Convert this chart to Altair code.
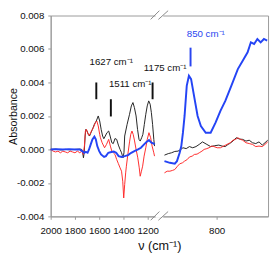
import altair as alt
import pandas as pd

# ---------------- data (wavenumber in cm-1, absorbance) ----------------
BLACK_WN = [2000, 1960, 1920, 1880, 1840, 1800, 1760, 1744, 1736, 1730, 1724, 1716, 1710, 1700,
            1690, 1680, 1668, 1656, 1640, 1624, 1608, 1596, 1584, 1572, 1562, 1550, 1536, 1522,
            1510, 1496, 1484, 1470, 1456, 1442, 1428, 1416, 1404, 1396, 1390, 1370, 1350, 1335,
            1322, 1310, 1296, 1284, 1272, 1262, 1250, 1240, 1228, 1216, 1204, 1192, 1180, 1170,
            1160, 1150, 1144,
            896, 889, 883, 877, 871, 866, 862, 856, 850, 844, 838, 832, 826, 818, 811, 804, 796,
            790, 784, 779, 776, 770, 764, 758, 752, 746, 740, 734, 728, 722, 716, 711, 706]
BLACK_ABS = [0.0, 0.00002, -0.00003, 0.0, -0.00002, 0.0, 0.00002, 0.0, -0.0002, -0.0005, -0.0002,
             0.0008, 0.0012, 0.0011, 0.0009, 0.0008, 0.001, 0.0012, 0.0015, 0.0017, 0.002, 0.0017,
             0.0012, 0.0008, 0.00064, 0.0008, 0.001, 0.0011, 0.0008, 0.0004, 0.00035, 0.00065,
             0.0006, 0.00026, 0.0, -0.0002, -0.0005, -0.0002, 0.0008, 0.0015, 0.0021, 0.0026,
             0.0028, 0.0025, 0.002, 0.0012, 0.0006, 0.0005, 0.0007, 0.0009, 0.0015, 0.0021,
             0.0026, 0.0029, 0.0027, 0.0022, 0.0015, 0.0006, 0.0002,
             -0.00034, -0.00025, -0.0002, -0.00012, -0.0001, 0.0, 0.0001, 0.00005, 0.00017,
             0.0001, 0.00017, 0.0003, 0.00045, 0.0003, 0.00017, 0.00022, 0.00026, 0.0002,
             0.00017, 0.0003, 0.00035, 0.0005, 0.0007, 0.00062, 0.0006, 0.0005, 0.00055,
             0.0004, 0.00035, 0.00045, 0.00026, 0.0004, 0.00055]

RED_WN = [2000, 1980, 1960, 1940, 1920, 1900, 1880, 1860, 1840, 1820, 1800, 1780, 1760, 1744,
          1732, 1722, 1714, 1706, 1696, 1686, 1676, 1664, 1648, 1632, 1620, 1608, 1596, 1590,
          1576, 1556, 1540, 1522, 1508, 1496, 1484, 1470, 1456, 1442, 1428, 1416, 1406, 1398,
          1390, 1382, 1376, 1364, 1350, 1340, 1330, 1320, 1310, 1296, 1282, 1270, 1262, 1252,
          1242, 1230, 1216, 1204, 1190, 1176, 1164, 1150, 1144,
          896, 891, 886, 881, 877, 872, 868, 863, 859, 854, 850, 845, 841, 836, 832, 827, 823,
          818, 814, 809, 805, 799, 793, 787, 781, 775, 770, 765, 761, 756, 752, 746, 740, 734,
          728, 722, 716, 711, 706]
RED_ABS = [0.0, -0.0001, -0.00015, -0.0001, -0.0002, -0.0001, -0.00015, -0.0002, -0.0001,
           -0.00015, -0.0002, -0.0001, -0.0002, -0.0001, -0.0003, 0.0002, 0.0011, 0.0012, 0.001,
           0.00085, 0.0009, 0.0011, 0.0013, 0.0016, 0.0017, 0.0014, 0.0009, 0.0007, 0.0004,
           0.0001, 0.0003, 0.0006, 0.0002, -0.0001, -0.0002, -0.0003, -0.0006, -0.00085,
           -0.0011, -0.0013, -0.0019, -0.0029, -0.0021, -0.0014, -0.001, -0.0003, 0.00045,
           0.0009, 0.0011, 0.0009, 0.00056, 0.0, -0.0005, -0.0011, -0.0016, -0.0013, -0.001,
           -0.0004, 0.0001, 0.0006, 0.001, 0.0007, 0.0002, -0.0002, -0.0004,
           -0.0014, -0.0013, -0.0013, -0.00125, -0.0012, -0.001, -0.00086, -0.0008, -0.0007,
           -0.0006, -0.00045, -0.0004, -0.0003, -0.00028, -0.0002, -0.0001, 0.0, 0.00005,
           0.0001, 0.0002, 0.00017, 0.0001, 0.0001, 0.0002, 0.0003, 0.0004, 0.00055, 0.0006,
           0.0007, 0.0006, 0.00055, 0.0004, 0.00035, 0.0003, 0.00017, 0.0002, 0.00017, 0.0003,
           0.00045]

BLUE_WN = [2000, 1950, 1900, 1850, 1800, 1760, 1740, 1724, 1710, 1696, 1684, 1670, 1656, 1640,
           1628, 1616, 1600, 1585, 1560, 1545, 1525, 1500, 1480, 1460, 1440, 1416, 1390, 1362,
           1336, 1310, 1280, 1256, 1230, 1210, 1190, 1170, 1150, 1144,
           896, 886, 877, 873, 868, 865, 862, 859, 855, 851, 847, 841, 835, 829, 820, 811, 802,
           793, 784, 773, 761, 752, 743, 737, 731, 725, 719, 713, 707]
BLUE_ABS = [0.0, 0.00002, 0.0, 0.00002, 0.0, 0.0, -0.0001, -0.0002, -0.00015, -0.0002, 0.0,
            0.0003, 0.0006, 0.00077, 0.0006, 0.0002, -0.0001, -0.0003, -0.00045, -0.0004,
            -0.0002, -0.00015, -0.00012, -0.0002, -0.0004, -0.00045, -0.0004, -0.00034,
            -0.0002, -0.0001, 0.0, 0.0001, 0.0003, 0.00045, 0.00056, 0.0004, 0.00035, 0.0003,
            -0.0007, -0.0008, -0.00085, -0.0007, -0.0002, 0.0002, 0.001, 0.002, 0.0038, 0.0044,
            0.0042, 0.0031, 0.002, 0.0014, 0.001, 0.001, 0.0016, 0.0023, 0.0029, 0.0038,
            0.0048, 0.0053, 0.0058, 0.0064, 0.0063, 0.0066, 0.0064, 0.0066, 0.0065]

ANNOT_TEXT = ["1627 cm⁻¹", "1511 cm⁻¹", "1175 cm⁻¹", "850 cm⁻¹"]
ANNOT_WN = [1680, 1520, 1232, 855]
ANNOT_ABS = [0.0052, 0.0039, 0.00485, 0.0069]
ANNOT_COLOR = ["#111111", "#111111", "#111111", "#2a45f0"]

MARK_WN = [1624, 1504, 1160, 848]
MARK_LO = [0.0030, 0.00197, 0.0030, 0.00496]
MARK_HI = [0.0040, 0.0030, 0.0040, 0.00608]
MARK_COLOR = ["#111111", "#111111", "#111111", "#2a45f0"]

X_TICKS = [2000, 1800, 1600, 1400, 1200, 800]
Y_TICKS = [-0.004, -0.002, 0.0, 0.002, 0.004, 0.006, 0.008]

# broken axis: left part 1 unit per cm-1, right part stretched
RIGHT_ANCHOR_U = 1368
RIGHT_STRETCH = 4.48
BREAK_GAP_U = [864, 928]
BREAK_SLASH_U = [(824, 896), (888, 968)]


def to_u(v):
    return 2000 - v if v > 1000 else RIGHT_ANCHOR_U + (800 - v) * RIGHT_STRETCH


def series_df(wn, ab, name):
    return pd.DataFrame({
        "u": [to_u(v) for v in wn],
        "A": ab,
        "seg": [name + ("L" if v > 1000 else "R") for v in wn],
    })


FONT = "Liberation Sans"
W, H = 224, 207

x_scale = alt.Scale(domain=[0, 1792], nice=False, zero=False)
y_scale = alt.Scale(domain=[-0.004, 0.008], nice=False, zero=False)

x_axis = alt.Axis(
    values=[to_u(v) for v in X_TICKS],
    labelExpr="datum.value < 1000 ? format(2000 - datum.value, 'd') : format(800 - (datum.value - %d) / %s, 'd')"
    % (RIGHT_ANCHOR_U, RIGHT_STRETCH),
    title="ν (cm⁻¹)", titleFontSize=13, titleFontWeight="normal", titleFont=FONT,
    titleColor="#111111", titleY=30, titleBaseline="middle",
    labelFont=FONT, labelFontSize=10, labelColor="#111111", labelPadding=7,
    labelFlush=False, labelOverlap=False,
    tickSize=3, tickColor="#999999", domainColor="#999999", grid=False,
)
y_axis = alt.Axis(
    values=Y_TICKS,
    labelExpr="(datum.value < 0 ? '-' : '') + format(abs(datum.value), '.3f')",
    title="Absorbance", titleFontSize=11, titleFontWeight="normal", titleFont=FONT,
    titleColor="#111111", titleX=-35.5, titleBaseline="alphabetic",
    labelFont=FONT, labelFontSize=10, labelColor="#111111", labelPadding=4,
    labelFlush=False, labelOverlap=False,
    tickSize=3, tickColor="#999999", domainColor="#999999", grid=False,
)

XA = lambda f: alt.X(f, scale=x_scale, axis=x_axis, title="ν (cm⁻¹)")
YA = lambda f: alt.Y(f, scale=y_scale, axis=y_axis, title="Absorbance")


def line_layer(df, color, width):
    return alt.Chart(df).mark_line(color=color, strokeWidth=width).encode(
        x=XA("u:Q"), y=YA("A:Q"), detail="seg:N")


black = line_layer(series_df(BLACK_WN, BLACK_ABS, "k"), "#222222", 1)
red = line_layer(series_df(RED_WN, RED_ABS, "r"), "#ff2a2a", 1)
blue = line_layer(series_df(BLUE_WN, BLUE_ABS, "b"), "#2444f5", 2)

ann_df = pd.DataFrame({
    "u": [to_u(v) for v in ANNOT_WN], "A": ANNOT_ABS, "t": ANNOT_TEXT, "c": ANNOT_COLOR,
})
annots = alt.Chart(ann_df).mark_text(
    align="left", baseline="middle", font=FONT, fontSize=10
).encode(
    x=XA("u:Q"), y=YA("A:Q"),
    text="t:N", color=alt.Color("c:N", scale=None),
)

mark_df = pd.DataFrame({
    "u": [to_u(v) for v in MARK_WN], "lo": MARK_LO, "hi": MARK_HI, "c": MARK_COLOR,
})
marks = alt.Chart(mark_df).mark_rule(strokeWidth=2).encode(
    x=XA("u:Q"), y=YA("lo:Q"), y2="hi:Q",
    color=alt.Color("c:N", scale=None),
)

gap_df = pd.DataFrame({"u1": [BREAK_GAP_U[0]], "u2": [BREAK_GAP_U[1]]})
gap_top = alt.Chart(gap_df).mark_rule(color="white", strokeWidth=3).encode(
    x=XA("u1:Q"), x2="u2:Q", y=alt.value(0))
gap_bot = alt.Chart(gap_df).mark_rule(color="white", strokeWidth=3).encode(
    x=XA("u1:Q"), x2="u2:Q", y=alt.value(H))

slash_df = pd.DataFrame({"u1": [a for a, b in BREAK_SLASH_U], "u2": [b for a, b in BREAK_SLASH_U]})
slash_top = alt.Chart(slash_df).mark_rule(color="#888888", strokeWidth=1).encode(
    x=XA("u1:Q"), x2="u2:Q", y=alt.value(4), y2=alt.value(-5))
slash_bot = alt.Chart(slash_df).mark_rule(color="#888888", strokeWidth=1).encode(
    x=XA("u1:Q"), x2="u2:Q", y=alt.value(H + 4), y2=alt.value(H - 5))

chart = alt.layer(
    black, red, blue, marks, annots, gap_top, gap_bot, slash_top, slash_bot
).properties(
    width=W, height=H,
    autosize=alt.AutoSizeParams(type="none"),
    padding={"left": 44, "top": 4, "right": 2, "bottom": 35},
).configure_view(stroke="#999999", strokeWidth=1)

chart.save("out.html", embed_options={"renderer": "svg", "actions": False})
